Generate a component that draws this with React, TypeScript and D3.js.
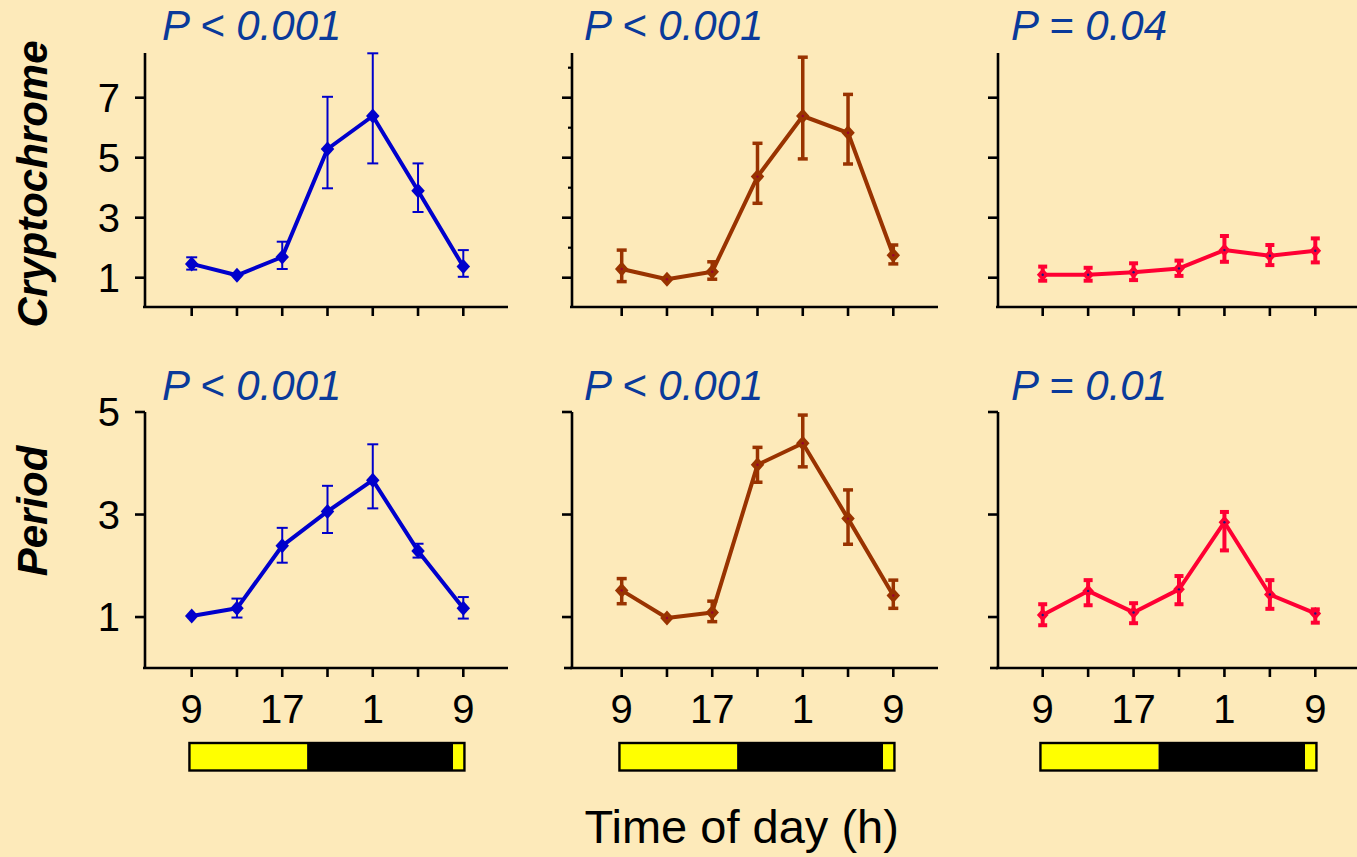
import React from "react";
import * as d3 from "d3";

// ---- data ----
const timeLabels = ["9", "13", "17", "21", "1", "5", "9"];
const hourOffsets = [0, 4, 8, 12, 16, 20, 24];
const labeledIdx = [0, 2, 4, 6];

const pValuesTop = ["P < 0.001", "P < 0.001", "P = 0.04"];
const pValuesBottom = ["P < 0.001", "P < 0.001", "P = 0.01"];

const cryBlue = [1.46, 1.08, 1.69, 5.29, 6.39, 3.9, 1.37];
const cryBlueHi = [1.68, 1.08, 2.2, 7.03, 8.48, 4.81, 1.92];
const cryBlueLo = [1.27, 1.08, 1.29, 3.98, 4.81, 3.19, 1.03];
const cryBrown = [1.29, 0.95, 1.2, 4.37, 6.39, 5.83, 1.75];
const cryBrownHi = [1.92, 0.95, 1.53, 5.48, 8.35, 7.11, 2.09];
const cryBrownLo = [0.87, 0.95, 0.95, 3.48, 4.96, 4.79, 1.46];
const cryRed = [1.1, 1.1, 1.18, 1.31, 1.92, 1.73, 1.9];
const cryRedHi = [1.37, 1.33, 1.48, 1.57, 2.39, 2.09, 2.31];
const cryRedLo = [0.9, 0.9, 0.92, 1.06, 1.53, 1.42, 1.51];

const perBlue = [1.02, 1.17, 2.39, 3.06, 3.67, 2.29, 1.17];
const perBlueHi = [1.02, 1.36, 2.74, 3.56, 4.37, 2.43, 1.39];
const perBlueLo = [1.02, 0.99, 2.06, 2.64, 3.12, 2.16, 0.97];
const perBrown = [1.52, 0.98, 1.09, 3.97, 4.39, 2.92, 1.42];
const perBrownHi = [1.75, 0.98, 1.31, 4.31, 4.94, 3.48, 1.72];
const perBrownLo = [1.26, 0.98, 0.91, 3.63, 3.93, 2.42, 1.17];
const perRed = [1.04, 1.51, 1.09, 1.54, 2.85, 1.44, 1.07];
const perRedHi = [1.25, 1.72, 1.27, 1.8, 3.05, 1.72, 1.15];
const perRedLo = [0.84, 1.23, 0.88, 1.25, 2.3, 1.16, 0.89];

const cryTicks = [1, 3, 5, 7];
const cryMinorTicks = [2, 4, 6, 8];
const perTicks = [1, 3, 5];

// light schedule in hours after 09:00
const barStart = -0.2;
const lightsOff = 10.2;
const lightsOn = 23.1;
const barEnd = 24.1;

// ---- styles / layout ----
const BG = "#FDEABA";
const FONT = "'Liberation Sans', Arial, Helvetica, sans-serif";
const PCOL = "#0a3a9a";

const seriesStyle = [
  { color: "#0000CC", lineW: 4, errW: 2, cap: 11, mk: 7.5, dot: null },
  { color: "#993300", lineW: 4, errW: 3.5, cap: 10, mk: 7.5, dot: "#990033" },
  { color: "#FF0033", lineW: 4, errW: 4, cap: 9, mk: 6.5, dot: "#1a1a80" },
];

const panelsX = [
  { axisX: 145, x0: 191.7, x1: 463.3, end: 508 },
  { axisX: 572, x0: 621.7, x1: 893.3, end: 938 },
  { axisX: 998, x0: 1042.7, x1: 1315.3, end: 1357 },
];

const rows = [
  {
    domain: [0, 8.5],
    range: [307.7, 52.7],
    axisTop: 53,
    axisBottom: 307,
    ticks: cryTicks,
    pY: 40,
    title: "Cryptochrome",
    titleY: 184,
    series: [
      [cryBlue, cryBlueLo, cryBlueHi],
      [cryBrown, cryBrownLo, cryBrownHi],
      [cryRed, cryRedLo, cryRedHi],
    ],
    pVals: pValuesTop,
    minor: [false, true, false],
    zeroTick: [false, false, false],
  },
  {
    domain: [0, 5],
    range: [668.3, 412],
    axisTop: 412,
    axisBottom: 668,
    ticks: perTicks,
    pY: 400,
    title: "Period",
    titleY: 511,
    series: [
      [perBlue, perBlueLo, perBlueHi],
      [perBrown, perBrownLo, perBrownHi],
      [perRed, perRedLo, perRedHi],
    ],
    pVals: pValuesBottom,
    minor: [false, false, false],
    zeroTick: [false, true, true],
  },
];

function diamond(cx: number, cy: number, r: number) {
  const w = r * 0.9;
  return `M${cx},${cy - r}L${cx + w},${cy}L${cx},${cy + r}L${cx - w},${cy}Z`;
}

export default function App() {
  return (
    <svg
      width={1357}
      height={857}
      style={{ position: "absolute", left: 0, top: 0, background: BG }}
      fontFamily={FONT}
    >
      <rect x={0} y={0} width={1357} height={857} fill={BG} />
      {rows.map((row, ri) => {
        const y = d3.scaleLinear().domain(row.domain).range(row.range);
        return (
          <g key={ri}>
            <text
              transform={`translate(47,${row.titleY}) rotate(-90)`}
              textAnchor="middle"
              fontSize={42}
              fontWeight="bold"
              fontStyle="italic"
              fill="#000"
            >
              {row.title}
            </text>
            {panelsX.map((p, pi) => {
              const x = d3.scaleLinear().domain([0, 24]).range([p.x0, p.x1]);
              const [mean, lo, hi] = row.series[pi];
              const st = seriesStyle[pi];
              const line = d3
                .line<number>()
                .x((_, i) => x(hourOffsets[i]))
                .y((v) => y(v));
              return (
                <g key={pi}>
                  {/* axes */}
                  <line x1={p.axisX} x2={p.axisX} y1={row.axisTop} y2={row.axisBottom + 1} stroke="#000" strokeWidth={2.6} />
                  <line x1={p.axisX - 2} x2={p.end} y1={row.axisBottom} y2={row.axisBottom} stroke="#000" strokeWidth={2.6} />
                  {hourOffsets.map((h, i) => (
                    <line key={i} x1={x(h)} x2={x(h)} y1={row.axisBottom} y2={row.axisBottom + 9} stroke="#000" strokeWidth={2.6} />
                  ))}
                  {row.ticks.map((t) => (
                    <line key={t} x1={p.axisX - 10} x2={p.axisX} y1={y(t)} y2={y(t)} stroke="#000" strokeWidth={2.6} />
                  ))}
                  {row.zeroTick[pi] && (
                    <line x1={p.axisX - 8} x2={p.axisX} y1={row.axisBottom} y2={row.axisBottom} stroke="#000" strokeWidth={2.6} />
                  )}
                  {row.minor[pi] &&
                    cryMinorTicks.map((t) => (
                      <line key={"m" + t} x1={p.axisX - 4} x2={p.axisX} y1={y(t)} y2={y(t)} stroke="#000" strokeWidth={2.2} />
                    ))}
                  {pi === 0 &&
                    row.ticks.map((t) => (
                      <text key={"l" + t} x={120} y={y(t)} dy="0.36em" textAnchor="end" fontSize={40} fill="#000">
                        {t}
                      </text>
                    ))}
                  {/* p value */}
                  <text
                    x={p.axisX + (pi === 0 ? 17 : pi === 1 ? 12 : 13)}
                    y={row.pY}
                    fontSize={42}
                    fontStyle="italic"
                    fill={PCOL}
                  >
                    {row.pVals[pi]}
                  </text>
                  {/* error bars */}
                  {mean.map((m, i) => {
                    if (Math.abs(hi[i] - lo[i]) < 0.02) return null;
                    const cx = x(hourOffsets[i]);
                    return (
                      <g key={"e" + i} stroke={st.color} strokeWidth={st.errW}>
                        <line x1={cx} x2={cx} y1={y(hi[i])} y2={y(lo[i])} />
                        <line x1={cx - st.cap / 2} x2={cx + st.cap / 2} y1={y(hi[i])} y2={y(hi[i])} />
                        <line x1={cx - st.cap / 2} x2={cx + st.cap / 2} y1={y(lo[i])} y2={y(lo[i])} />
                      </g>
                    );
                  })}
                  <path d={line(mean) || ""} fill="none" stroke={st.color} strokeWidth={st.lineW} strokeLinejoin="round" />
                  {mean.map((m, i) => (
                    <g key={"d" + i}>
                      <path d={diamond(x(hourOffsets[i]), y(m), st.mk)} fill={st.color} />
                      {st.dot && <circle cx={x(hourOffsets[i])} cy={y(m)} r={1.2} fill={st.dot} />}
                    </g>
                  ))}
                  {/* x tick labels + light bar (bottom row only) */}
                  {ri === 1 && (
                    <g>
                      {labeledIdx.map((i) => (
                        <text key={"x" + i} x={x(hourOffsets[i])} y={722.7} textAnchor="middle" fontSize={40} fill="#000">
                          {timeLabels[i]}
                        </text>
                      ))}
                      <rect x={x(barStart)} y={743} width={x(lightsOff) - x(barStart)} height={27.5} fill="#FFFF00" />
                      <rect x={x(lightsOff)} y={743} width={x(lightsOn) - x(lightsOff)} height={27.5} fill="#000" />
                      <rect x={x(lightsOn)} y={743} width={x(barEnd) - x(lightsOn)} height={27.5} fill="#FFFF00" />
                      <rect x={x(barStart)} y={743} width={x(barEnd) - x(barStart)} height={27.5} fill="none" stroke="#000" strokeWidth={2.4} />
                    </g>
                  )}
                </g>
              );
            })}
          </g>
        );
      })}
      <text x={741.7} y={843.3} textAnchor="middle" fontSize={47} fill="#000">
        Time of day (h)
      </text>
    </svg>
  );
}
